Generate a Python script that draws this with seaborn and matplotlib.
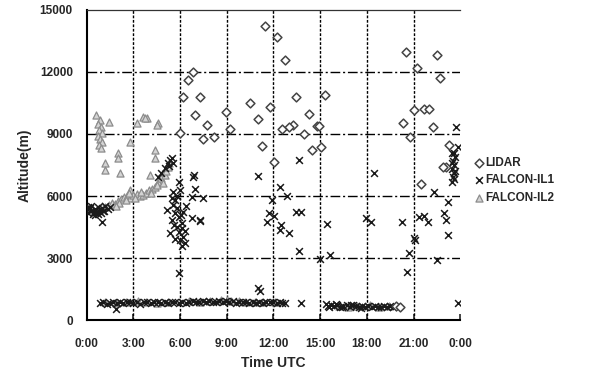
import pandas as pd
import matplotlib
matplotlib.use('Agg')
import matplotlib.pyplot as plt
import seaborn as sns

# LIDAR cloud top points (hour UTC, altitude m)
lidar_t = [6.82, 6.5, 6.2, 7.25, 6.97, 7.72, 7.5, 8.2, 6.0, 8.95, 9.23, 10.47, 11.0,
           11.48, 12.24, 12.77, 13.48, 14.28, 14.77, 13.27, 12.99, 12.52, 11.8, 13.96,
           15.29, 14.95, 11.27, 12.02, 14.5, 15.03, 20.52, 22.52, 21.23, 22.73, 21.01,
           21.7, 22.02, 20.3, 22.24, 20.8, 23.31, 23.1, 21.5, 22.9, 19.9, 20.1]
lidar_z = [12015, 11613, 10806, 10774, 9920, 9436, 8742, 8839, 9033, 10080, 9226, 10484, 9710,
           14240, 13710, 12580, 10775, 9952, 9388, 9436, 9323, 9242, 10290, 9000,
           10890, 9388, 8435, 7630, 8226, 8387, 12954, 12823, 12180, 11726, 10162,
           10195, 10195, 9517, 9355, 8872, 8468, 7420, 6600, 7390, 700, 650]

# FALCON IL1
il1_t = [0.0, 0.1, 0.2, 0.3, 0.4, 0.5, 0.6, 0.7, 0.8, 0.9, 1.0, 1.1, 1.2, 1.35, 1.5, 0.95, 0.25, 0.55,
         0.05, 0.45, 0.75, 1.05,
         4.6, 4.8, 5.0, 5.2, 5.35, 5.46, 5.57, 5.3,
         5.9, 5.57, 6.0, 5.14, 5.57, 5.78, 6.21, 6.75, 7.29, 5.46, 5.78, 5.35, 6.1, 6.21, 6.32,
         6.0, 5.68, 6.86, 6.9, 6.97, 6.75, 7.5, 7.29, 5.9, 5.9, 6.1, 5.6, 6.3, 5.5, 5.8, 6.4, 6.1,
         5.7, 6.05, 5.95, 5.65,
         11.0, 11.0, 12.45, 12.84, 11.92, 11.7, 12.06, 11.59, 12.5, 12.45, 12.99, 13.42, 13.74,
         13.63, 14.99, 15.64, 15.46, 18.43, 17.94, 18.26, 20.23, 21.37, 21.7, 21.91, 22.3, 22.95,
         23.1, 23.2, 21.12, 20.73, 20.58, 22.52, 23.85, 13.63, 23.7, 23.85, 23.2, 21.05, 11.16,
         1.9, 12.56, 12.77, 13.74,
         23.5, 23.55, 23.6, 23.5, 23.6, 23.55, 23.65, 23.5, 23.6, 23.65, 23.5, 23.63,
         0.85, 1.05, 1.3, 1.5, 1.7, 1.95, 2.15, 2.35, 2.6, 2.8, 3.0, 3.25, 3.45, 3.7, 3.9, 4.1,
         4.35, 4.55, 4.8, 5.0, 5.25, 5.45, 5.7, 5.9, 6.1, 6.35, 6.55, 6.8, 7.0, 7.2, 7.45, 7.65,
         7.85, 8.1, 8.3, 8.5, 8.75, 8.95, 9.15, 9.4, 9.6, 9.8, 10.05, 10.25, 10.45, 10.7, 10.9,
         11.1, 11.35, 11.55, 11.75, 12.0, 12.2, 12.4,
         15.35, 15.5, 15.7, 15.9, 16.1, 16.3, 16.5, 16.7, 16.9, 17.1, 17.3, 17.5, 17.7, 17.9,
         18.1, 18.3, 18.5, 18.7, 18.9, 19.1, 19.3, 19.5, 19.7, 15.6, 16.0, 16.4, 17.0, 17.6]
il1_z = [5350, 5200, 5400, 5300, 5150, 5350, 5250, 5450, 5300, 5200, 5400, 5300, 5500, 5350, 5450, 4727, 5500, 5100,
         5450, 5250, 5150, 5300,
         6900, 7100, 7350, 7600, 7742, 7823, 7581, 7450,
         6694, 6210, 6290, 5323, 5565, 5403, 5242, 4920, 4839, 4839, 4516, 4194, 4436, 4033, 3710,
         3871, 5807, 6935, 7000, 6324, 5968, 5887, 4790, 2258, 5000, 4700, 4600, 4300, 5900, 6000, 5500, 3600,
         3900, 5100, 4250, 5200,
         6950, 1532, 6452, 6000, 5807, 5194, 5032, 4758, 4597, 4355, 4226, 5242, 5242,
         3355, 2935, 3145, 4645, 7097, 4920, 4758, 4758, 5000, 5032, 4758, 6210, 5161,
         4839, 4113, 3871, 3226, 2339, 2903, 839, 7743, 9355, 8387, 5726, 3952, 1419,
         517, 839, 839, 839,
         6700, 6900, 7100, 7300, 7500, 7700, 7900, 8100, 6800, 7200, 7600, 8065,
         820, 880, 790, 850, 900, 830, 870, 810, 860, 900, 840, 880, 800, 860, 890, 830,
         870, 900, 840, 880, 820, 860, 900, 850, 880, 830, 870, 910, 860, 900, 940, 880,
         920, 860, 900, 950, 880, 920, 870, 910, 850, 890, 860, 900, 840, 880, 850,
         890, 840, 870, 900, 860, 830, 870,
         760, 700, 740, 680, 720, 650, 700, 730, 660, 710, 680, 640, 700, 660,
         690, 640, 680, 620, 660, 700, 640, 680, 650, 620, 760, 620, 750, 610]

# FALCON IL2
il2_t = [0.62, 0.84, 0.75, 0.9, 0.8, 0.95, 0.7, 0.85, 1.0, 0.78, 0.9, 1.44, 2.77, 3.63, 3.85,
         3.2, 4.6, 2.02, 2.02, 1.16, 1.16, 2.13, 4.39, 4.39, 4.06, 4.49, 3.74, 2.77,
         1.0, 1.2, 1.4, 1.6, 1.8, 2.0, 2.2, 2.4, 2.6, 2.8, 3.0, 3.2, 3.4, 3.6, 3.8, 4.0, 4.2,
         4.4, 4.6, 4.8, 5.0, 5.1, 5.2, 5.3, 2.1, 2.5, 3.1, 3.5, 4.1, 4.5, 4.9, 2.7, 1.9,
         1.2, 1.9, 2.5, 3.3, 3.8, 4.5, 5.2, 6.6, 7.3, 7.9, 8.6, 9.0, 9.3, 9.8, 10.2, 10.8,
         11.3, 12.1, 16.2, 16.8, 17.4, 18.2, 18.8, 19.4]
il2_z = [9920, 9678, 9500, 9350, 9200, 9050, 8900, 8750, 8600, 8450, 8300, 9597, 8629, 9840, 9758,
         9517, 9517, 8065, 7823, 7581, 7258, 7097, 8226, 7823, 7016, 9436, 9758, 6290,
         5500, 5450, 5550, 5650, 5600, 5750, 5850, 5950, 6000, 5900, 6050, 6100, 6000, 6050, 6150, 6300, 6350,
         6450, 6700, 6850, 7000, 7200, 7400, 7600, 5650, 5800, 5900, 6200, 6150, 6550, 6650, 6150, 5500,
         880, 820, 860, 910, 900, 850, 870, 910, 880, 930, 960, 990, 950, 920, 900, 870,
         880, 900, 700, 650, 680, 720, 660, 690]

time_ticks = [0, 3, 6, 9, 12, 15, 18, 21, 24]
time_labels = ['0:00', '3:00', '6:00', '9:00', '12:00', '15:00', '18:00', '21:00', '0:00']
alt_ticks = [0, 3000, 6000, 9000, 12000, 15000]

sns.set_style("white")
plt.rcParams['font.family'] = ['Liberation Sans', 'DejaVu Sans']

fig = plt.figure(figsize=(5.9, 3.78), dpi=100)
ax = fig.add_axes([0.147, 0.153, 0.633, 0.821])

sns.scatterplot(x=il2_t, y=il2_z, marker='^', s=26, facecolor='#d4d4d4', edgecolor='#8c8c8c',
                linewidth=0.9, ax=ax, label='FALCON-IL2', zorder=3)
sns.scatterplot(x=il1_t, y=il1_z, marker='x', s=24, color='#1a1a1a', linewidth=1.1,
                ax=ax, label='FALCON-IL1', zorder=4)
sns.scatterplot(x=lidar_t, y=lidar_z, marker='D', s=20, facecolor='white', edgecolor='#444444',
                linewidth=1.1, ax=ax, label='LIDAR', zorder=5)

ax.set_xlim(0, 24)
ax.set_ylim(0, 15000)
ax.set_xticks(time_ticks)
ax.set_xticklabels(time_labels)
ax.set_yticks(alt_ticks)
ax.set_yticklabels([str(v) for v in alt_ticks])

for v in alt_ticks[1:-1]:
    ax.axhline(v, color='black', lw=1.0, ls=(0, (7, 2, 1.5, 2)), zorder=1)
for v in time_ticks[1:-1]:
    ax.axvline(v, color='black', lw=1.0, ls=(0, (2, 1.2)), zorder=1)

for s in ['left', 'bottom']:
    ax.spines[s].set_color('black')
    ax.spines[s].set_linewidth(1.5)
ax.spines['right'].set_visible(False)
ax.spines['top'].set_linestyle((0, (1, 1)))
ax.spines['top'].set_color('#333333')
ax.spines['top'].set_linewidth(0.9)

ax.tick_params(axis='x', direction='in', length=4, width=1.2, bottom=True, pad=13)
ax.tick_params(axis='y', length=0, pad=10)
for lab in ax.get_xticklabels() + ax.get_yticklabels():
    lab.set_fontweight('bold')
    lab.set_fontsize(8.5)

ax.set_xlabel('Time UTC', fontsize=10, fontweight='bold', labelpad=4)
ax.set_ylabel('Altitude(m)', fontsize=10, fontweight='bold', labelpad=6)

handles, labels = ax.get_legend_handles_labels()
order = [2, 1, 0]
leg = ax.legend([handles[i] for i in order], [labels[i] for i in order],
                loc='upper left', bbox_to_anchor=(1.01, 0.56), frameon=False,
                handletextpad=0.1, handlelength=0.8, labelspacing=0.45,
                prop={'weight': 'bold', 'size': 8.5})

fig.savefig('out.png', dpi=100)
